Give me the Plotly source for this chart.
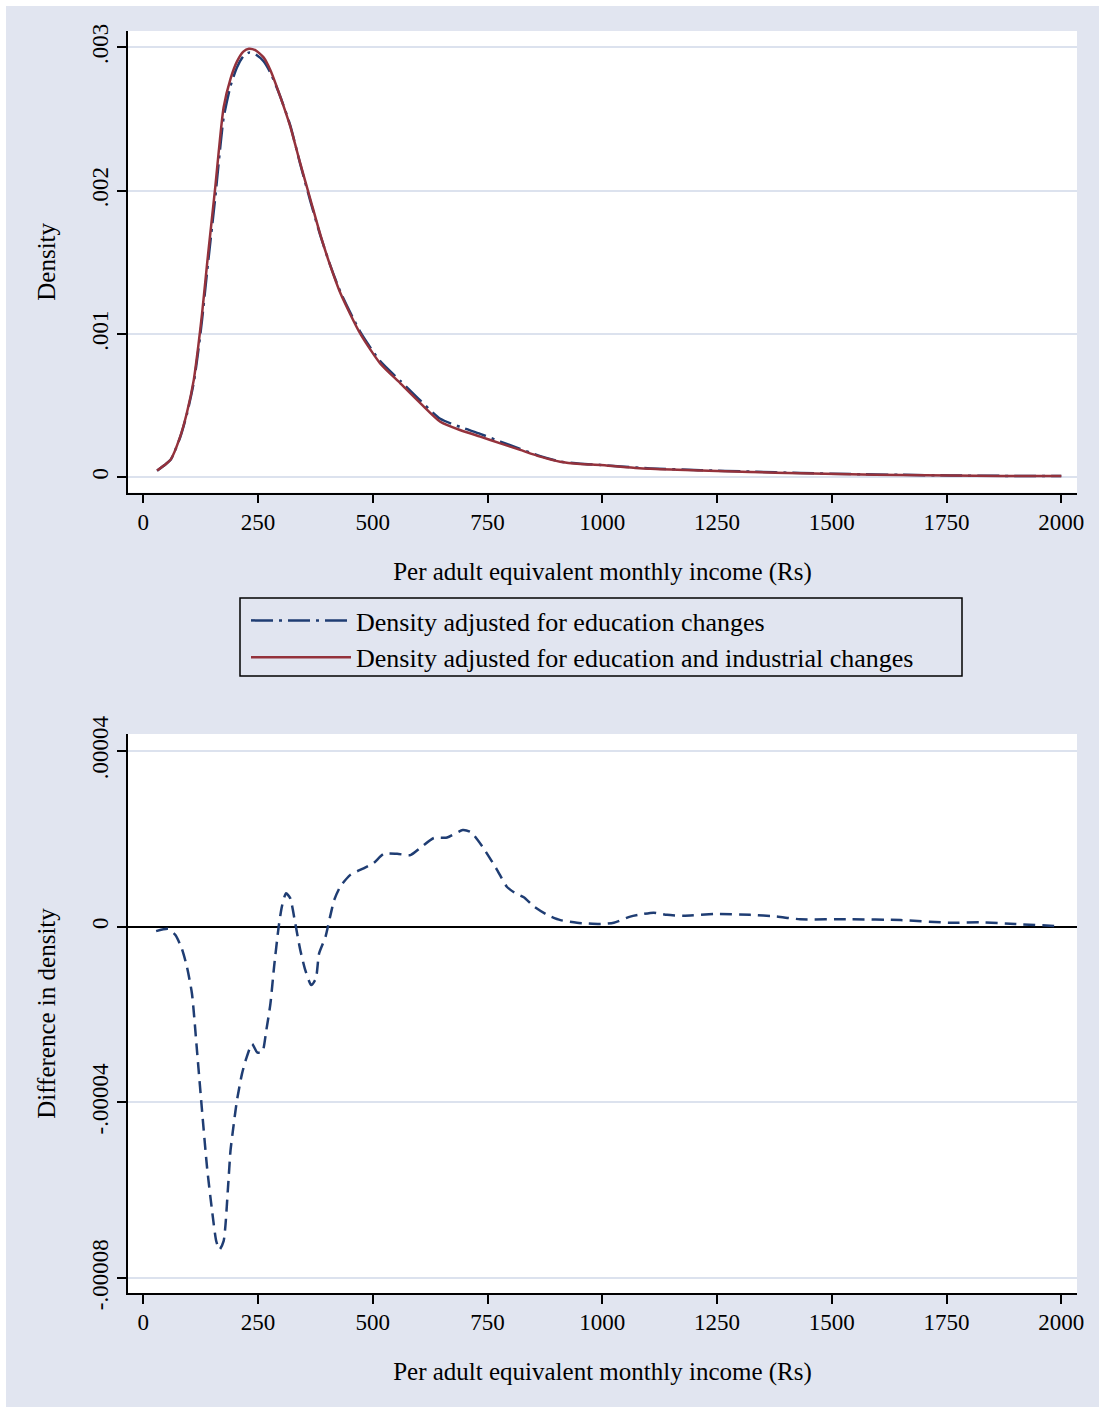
import plotly.graph_objects as go

# ---------------- data ----------------
income = [30, 50, 60, 80, 95, 110, 120, 128, 139, 150, 157, 164, 175, 190, 204, 218, 230, 244,
          262, 277, 298, 320, 342, 364, 386, 407, 430, 473, 516, 560, 604, 647, 690, 734, 778,
          821, 865, 908, 952, 996, 1040, 1105, 1214, 1322, 1431, 1540, 1649, 1758, 1867, 2000]

dens_edu_ind = [0.000047, 0.000095, 0.000125, 0.00028, 0.00045, 0.00068, 0.00092, 0.00114,
                0.00149, 0.00182, 0.00203, 0.00226, 0.00258, 0.00278, 0.00290, 0.00297, 0.00299,
                0.00298, 0.00293, 0.00284, 0.00266, 0.00245, 0.00219, 0.00194, 0.00169, 0.00148,
                0.00128, 0.00100, 0.000795, 0.000656, 0.000516, 0.000388, 0.00033, 0.000284,
                0.000237, 0.000191, 0.000144, 0.000109, 0.000093, 0.000086, 0.000074, 0.000059,
                0.000047, 0.000037, 0.000028, 0.000021, 0.000016, 0.000012, 0.0000093, 0.000009]

dens_edu = [0.000046, 0.0000945, 0.000124, 0.000276, 0.000441, 0.000662, 0.000888, 0.001098,
            0.001435, 0.001755, 0.001959, 0.0021865, 0.002508, 0.00273, 0.00286, 0.002938,
            0.002963, 0.002952, 0.002903, 0.0028225, 0.002661, 0.0024565, 0.0021847, 0.001927,
            0.001685, 0.0014823, 0.0012891, 0.001013, 0.000811, 0.0006727, 0.000534, 0.0004083,
            0.000352, 0.000303, 0.000249, 0.000198, 0.0001475, 0.0001105, 0.0000939, 0.0000866,
            0.000076, 0.0000621, 0.0000497, 0.0000397, 0.0000297, 0.0000228, 0.0000175,
            0.0000129, 0.00001, 0.0000091]

diff_income = [28, 55, 70, 84, 95, 106, 117, 128, 139, 150, 159, 166, 175, 185, 190, 197, 204,
               215, 224, 237, 248, 259, 268, 277, 285, 295, 302, 311, 320, 331, 342, 353, 366,
               376, 383, 397, 407, 416, 429, 451, 480, 502, 524, 553, 582, 604, 633, 662, 696,
               714, 741, 771, 792, 811, 829, 850, 880, 909, 945, 996, 1025, 1061, 1090, 1112,
               1141, 1177, 1250, 1322, 1380, 1431, 1540, 1650, 1758, 1823, 1900, 2000]

diff_density = [-0.10e-5, -0.05e-5, -0.19e-5, -0.50e-5, -0.91e-5, -1.52e-5, -2.82e-5, -4.19e-5,
                -5.49e-5, -6.48e-5, -7.16e-5, -7.35e-5, -7.16e-5, -5.87e-5, -5.10e-5, -4.50e-5,
                -3.96e-5, -3.35e-5, -3.01e-5, -2.67e-5, -2.86e-5, -2.86e-5, -2.36e-5, -1.75e-5,
                -0.91e-5, 0.00e-5, 0.46e-5, 0.76e-5, 0.65e-5, 0.08e-5, -0.53e-5, -0.99e-5,
                -1.33e-5, -1.18e-5, -0.61e-5, -0.23e-5, 0.23e-5, 0.61e-5, 0.91e-5, 1.18e-5,
                1.33e-5, 1.45e-5, 1.66e-5, 1.66e-5, 1.63e-5, 1.80e-5, 2.02e-5, 2.03e-5, 2.20e-5,
                2.15e-5, 1.79e-5, 1.29e-5, 0.91e-5, 0.76e-5, 0.67e-5, 0.47e-5, 0.27e-5, 0.15e-5,
                0.09e-5, 0.06e-5, 0.09e-5, 0.23e-5, 0.29e-5, 0.32e-5, 0.27e-5, 0.25e-5, 0.29e-5,
                0.27e-5, 0.23e-5, 0.17e-5, 0.17e-5, 0.15e-5, 0.09e-5, 0.10e-5, 0.06e-5, 0.01e-5]

x_ticks = [0, 250, 500, 750, 1000, 1250, 1500, 1750, 2000]
x_tick_labels = ["0", "250", "500", "750", "1000", "1250", "1500", "1750", "2000"]
y1_ticks = [0, 0.001, 0.002, 0.003]
y1_tick_labels = ["0", ".001", ".002", ".003"]
y2_ticks = [-0.00008, -0.00004, 0, 0.00004]
y2_tick_labels = ["-.00008", "-.00004", "0", ".00004"]

series_names = ["Density adjusted for education changes",
                "Density adjusted for education and industrial changes"]
x_title = "Per adult equivalent monthly income (Rs)"

# ---------------- styling ----------------
NAVY = "#1F3D73"
MAROON = "#94323C"
BG = "#E1E5F0"
GRID = "#DCE2EE"
FONT = "Liberation Serif"
FS_TICK = 23
FS_TITLE = 25
FS_LEGEND = 26

OFF = 6                      # white border of the picture at its top / left edge
W, H = 1099 - OFF, 1407 - OFF
ML, MR, MT, MB = 122, 22, 25, 114
PW = W - ML - MR
PH = H - MT - MB


def px_to_paper_x(px):
    return (px - OFF - ML) / PW


def px_to_paper_y(py):
    return 1 - (py - OFF - MT) / PH


fig = go.Figure()

fig.add_trace(go.Scatter(
    x=income, y=dens_edu, mode="lines", name=series_names[0],
    line=dict(color=NAVY, width=2.5, dash="22px,6px,3px,6px", shape="spline", smoothing=0.6),
    xaxis="x", yaxis="y", legendgroup="a"))
fig.add_trace(go.Scatter(
    x=income, y=dens_edu_ind, mode="lines", name=series_names[1],
    line=dict(color=MAROON, width=2.5, shape="spline", smoothing=0.6),
    xaxis="x", yaxis="y", legendgroup="b"))
fig.add_trace(go.Scatter(
    x=diff_income, y=diff_density, mode="lines", showlegend=False,
    line=dict(color=NAVY, width=2.5, dash="12px,7px", shape="spline", smoothing=0.6),
    xaxis="x2", yaxis="y2"))

axis_common = dict(
    showline=True, linecolor="black", linewidth=1.5, automargin=False,
    ticks="outside", ticklen=9, tickwidth=1.5, tickcolor="black",
    tickfont=dict(family=FONT, size=FS_TICK, color="black"),
)

x_range = [-33.3, 2034.2]
top_dom = [px_to_paper_y(492.7), 1.0]
bot_dom = [0.0, px_to_paper_y(734)]

fig.update_layout(
    width=W, height=H,
    margin=dict(l=ML, r=MR, t=MT, b=MB, autoexpand=False),
    paper_bgcolor=BG, plot_bgcolor="white",
    font=dict(family=FONT, size=FS_TITLE, color="black"),
    xaxis=dict(domain=[0, 1], anchor="y", range=x_range, tickvals=x_ticks,
               ticktext=x_tick_labels, showgrid=False, zeroline=False, ticklabelstandoff=-1,
               title=dict(text=x_title, font=dict(family=FONT, size=FS_TITLE), standoff=28),
               **axis_common),
    yaxis=dict(domain=top_dom, anchor="x", range=[-0.0001074, 0.003114], tickvals=y1_ticks,
               ticktext=y1_tick_labels, tickangle=-90, showgrid=True, gridcolor=GRID,
               gridwidth=2, zeroline=False,
               title=dict(text="Density", font=dict(family=FONT, size=FS_TITLE), standoff=25),
               **axis_common),
    xaxis2=dict(domain=[0, 1], anchor="y2", range=x_range, tickvals=x_ticks,
                ticktext=x_tick_labels, showgrid=False, zeroline=False, ticklabelstandoff=-1,
                title=dict(text=x_title, font=dict(family=FONT, size=FS_TITLE), standoff=28),
                **axis_common),
    yaxis2=dict(domain=bot_dom, anchor="x2", range=[-8.339e-5, 4.387e-5], tickvals=y2_ticks,
                ticktext=y2_tick_labels, tickangle=-90, showgrid=True, gridcolor=GRID,
                gridwidth=2, zeroline=True, zerolinecolor="black", zerolinewidth=2,
                title=dict(text="Difference in density", font=dict(family=FONT, size=FS_TITLE),
                           standoff=25),
                **axis_common),
    showlegend=True,
    legend=dict(
        x=px_to_paper_x(246), y=px_to_paper_y(597), xanchor="left", yanchor="top",
        bgcolor="rgba(0,0,0,0)", borderwidth=0,
        font=dict(family=FONT, size=FS_LEGEND, color="black"),
        itemwidth=100, tracegroupgap=0, traceorder="normal",
    ),
)

# legend frame, as in the reference
fig.add_shape(type="rect", xref="paper", yref="paper",
              x0=px_to_paper_x(240), x1=px_to_paper_x(962),
              y0=px_to_paper_y(676), y1=px_to_paper_y(598),
              line=dict(color="black", width=1.5), fillcolor="rgba(0,0,0,0)")

page_css = ("document.body.style.margin='%dpx 0 0 %dpx';"
            "document.documentElement.style.overflow='hidden';"
            "document.body.style.overflow='hidden';" % (OFF, OFF))

fig.write_html("out.html", post_script=page_css)
